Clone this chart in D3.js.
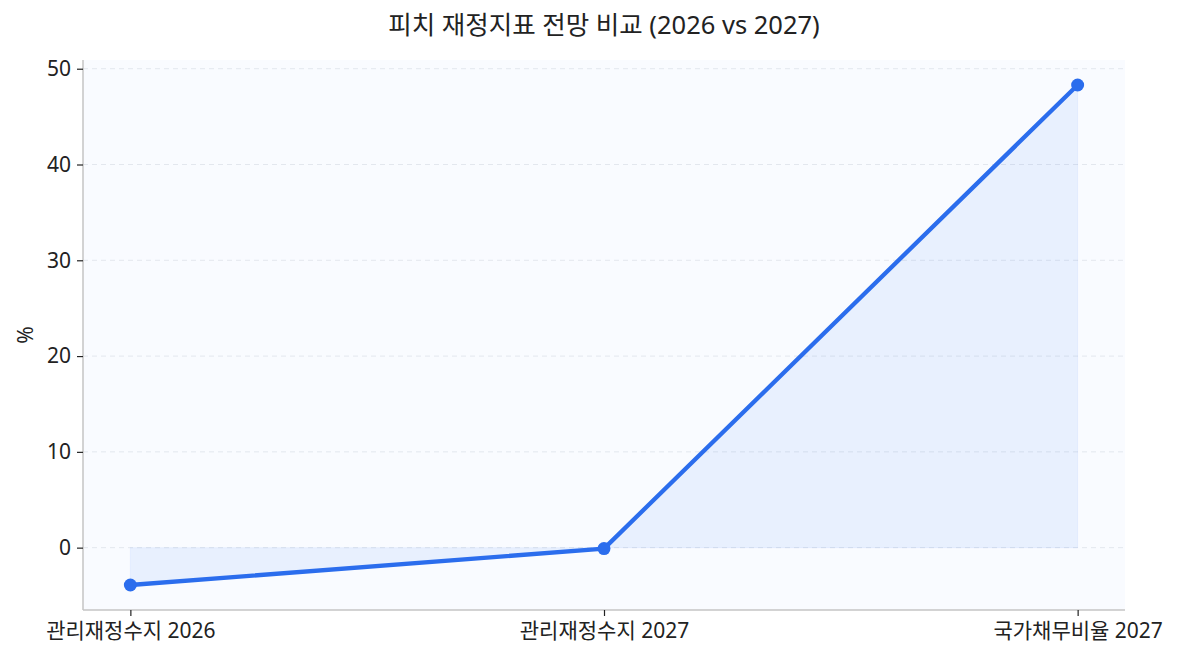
<!DOCTYPE html>
<html>
<head>
<meta charset="utf-8">
<script src="https://cdn.jsdelivr.net/npm/d3@7"></script>
<style>
  body { margin: 0; background: #fff; }
  text { font-family: "Noto Sans", "Noto Sans CJK KR", sans-serif; fill: #222; }
</style>
</head>
<body>
<svg id="chart"></svg>
<script>
// data
let categories = ["관리재정수지 2026", "관리재정수지 2027", "국가채무비율 2027"];
let values = [-3.9, -0.1, 48.3];
let yTicks = [0, 10, 20, 30, 40, 50];
let title = "피치 재정지표 전망 비교 (2026 vs 2027)";
let yLabel = "%";

let width = 1179;
let height = 660;
let margin = {top: 60, right: 54, bottom: 50, left: 83};
let lineColor = "#2b6ded";

let svg = d3.select('#chart')
  .attr('width', width)
  .attr('height', height);

let plotW = width - margin.left - margin.right;
let plotH = height - margin.top - margin.bottom;

// matplotlib style 5% padding
let x = d3.scaleLinear()
  .domain([-0.1, categories.length - 1 + 0.1])
  .range([margin.left, margin.left + plotW]);

let yMin = d3.min([0, ...values]), yMax = d3.max([0, ...values]);
let pad = (yMax - yMin) * 0.05;
let y = d3.scaleLinear()
  .domain([yMin - pad, yMax + pad])
  .range([margin.top + plotH, margin.top]);

// plot background
svg.append('rect')
  .attr('x', margin.left).attr('y', margin.top)
  .attr('width', plotW).attr('height', plotH)
  .attr('fill', '#f9fbff');

// grid
svg.append('g')
  .selectAll('line')
  .data(yTicks)
  .enter()
  .append('line')
    .attr('x1', margin.left).attr('x2', margin.left + plotW)
    .attr('y1', d => y(d)).attr('y2', d => y(d))
    .attr('stroke', '#e3e7ee')
    .attr('stroke-dasharray', '5,4')
    .attr('stroke-width', 1);

// area to zero
svg.append('path')
  .datum(values)
  .attr('d', d3.area().x((d, i) => x(i)).y0(y(0)).y1(d => y(d)))
  .attr('fill', '#2b6ded')
  .attr('fill-opacity', 0.08)
  .attr('stroke', '#2b6ded')
  .attr('stroke-opacity', 0.06);

// line
svg.append('path')
  .datum(values)
  .attr('d', d3.line().x((d, i) => x(i)).y(d => y(d)))
  .attr('fill', 'none')
  .attr('stroke', lineColor)
  .attr('stroke-width', 4.3)
  .attr('stroke-linejoin', 'round');

svg.append('g')
  .selectAll('circle')
  .data(values)
  .enter()
  .append('circle')
    .attr('cx', (d, i) => x(i))
    .attr('cy', d => y(d))
    .attr('r', 6.5)
    .attr('fill', lineColor);

// axes
let yAxis = svg.append('g')
  .attr('transform', `translate(${margin.left},0)`)
  .call(d3.axisLeft(y).tickValues(yTicks).tickSize(6).tickPadding(6));
let xAxis = svg.append('g')
  .attr('transform', `translate(0,${margin.top + plotH})`)
  .call(d3.axisBottom(x).tickValues(d3.range(categories.length))
    .tickFormat(i => categories[i]).tickSize(6).tickPadding(7));

[yAxis, xAxis].forEach(ax => {
  ax.select('.domain').attr('stroke', '#c4c4c4').attr('stroke-width', 1.5);
  ax.selectAll('.tick line').attr('stroke', '#222').attr('stroke-width', 1.2);
  ax.selectAll('.tick text').style('font-size', '21px').attr('fill', '#222');
});
// domain path without end ticks
yAxis.select('.domain').attr('d', `M0,${margin.top}V${margin.top + plotH}`);
xAxis.select('.domain').attr('d', `M${margin.left},0H${margin.left + plotW}`);

// title
svg.append('text')
  .attr('x', margin.left + plotW / 2)
  .attr('y', 34)
  .attr('text-anchor', 'middle')
  .style('font-size', '25.5px')
  .text(title);

// y label
svg.append('text')
  .attr('transform', `translate(33,${margin.top + plotH / 2}) rotate(-90)`)
  .attr('text-anchor', 'middle')
  .style('font-size', '21px')
  .text(yLabel);
</script>
</body>
</html>
